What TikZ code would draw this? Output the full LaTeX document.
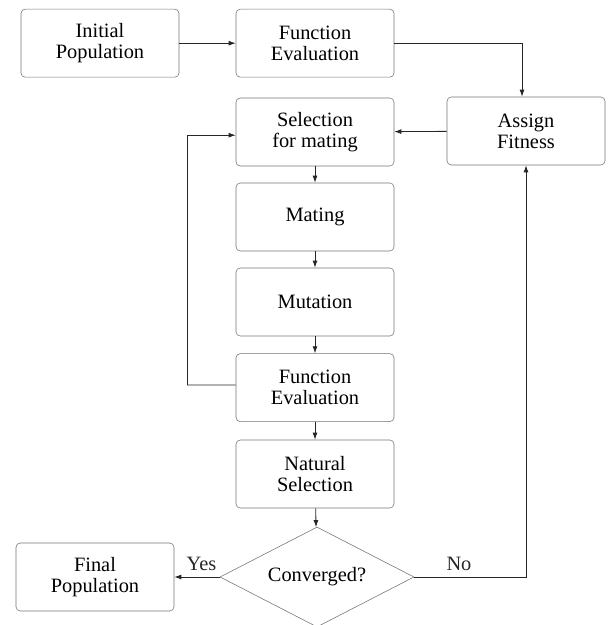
\documentclass[tikz,border=0pt]{standalone}
\usepackage{fontspec}
\setmainfont{Liberation Serif}
\usetikzlibrary{arrows.meta,positioning,shapes.geometric}
\tikzset{
  stage/.style={draw=black!55, rounded corners=3pt, minimum width=3.95cm, minimum height=1.7cm,
    align=center, font=\fontsize{14.5}{15}\selectfont},
  decision/.style={draw=black!55, diamond, aspect=1.94, minimum width=4.85cm, minimum height=2.5cm,
    inner sep=0pt, font=\fontsize{14.5}{15}\selectfont},
  flow/.style={-{Latex[length=5pt,width=3.5pt]}, black!85, line width=0.6pt},
  link/.style={black!85, line width=0.6pt},
}
\begin{document}
\begin{tikzpicture}
  \useasboundingbox (0,0) rectangle (15.225,-15.625);

  % Top row
  \node[stage] (init) at (2.5,-1.08) {Initial\\Population};
  \node[stage] (eval1) at (7.875,-1.08) {Function\\Evaluation};
  \node[stage] (fit) at (13.15,-3.275) {Assign\\Fitness};

  % Main loop
  \node[stage] (select) at (7.875,-3.3) {Selection\\for mating};
  \node[stage] (mate) at (7.875,-5.425) {Mating};
  \node[stage] (mutate) at (7.875,-7.55) {Mutation};
  \node[stage] (eval2) at (7.875,-9.69) {Function\\Evaluation};
  \node[stage] (natural) at (7.875,-11.85) {Natural\\Selection};
  \node[decision] (conv) at (7.925,-14.425) {Converged?};
  \node[stage] (final) at (2.375,-14.425) {Final\\Population};

  % Connectors
  \draw[flow] (init) -- (eval1);
  \draw[flow] (eval1.east) -| ([xshift=-0.1cm]fit.north);
  \draw[flow] (fit) -- (select);
  \draw[flow] (select) -- (mate);
  \draw[flow] (mate) -- (mutate);
  \draw[flow] (mutate) -- (eval2);
  \draw[flow] (eval2) -- (natural);
  \draw[flow] (natural) -- (conv);

  \coordinate (back) at (4.675,-9.625);
  \draw[link] ([yshift=0.065cm]eval2.west) -- (back);
  \draw[flow] (back) |- ([yshift=-0.08cm]select.west);

  \draw[flow] (conv.west) -- (final.east) node[pos=0.4, above=1pt, font=\fontsize{14.5}{15}\selectfont] {Yes};
  \draw[flow] (conv.east) -| (fit.south) node[pos=0.2, above=1pt, font=\fontsize{14.5}{15}\selectfont] {No};
\end{tikzpicture}
\end{document}
